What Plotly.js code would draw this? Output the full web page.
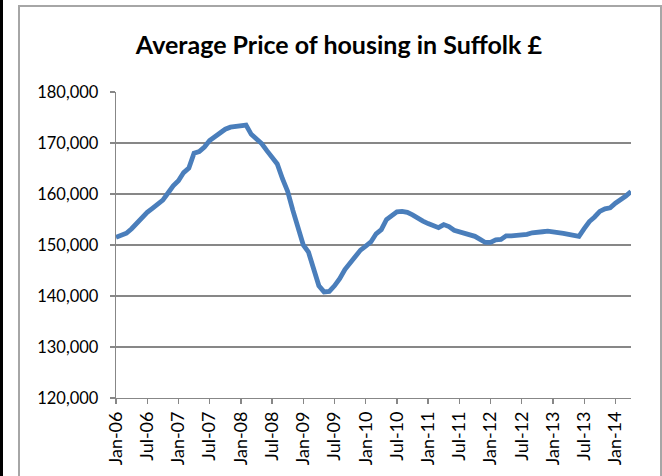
<!DOCTYPE html>
<html>
<head>
<meta charset="utf-8">
<script src="https://cdn.plot.ly/plotly-3.0.1.min.js"></script>
<style>
  html, body { margin: 0; padding: 0; background: #ffffff; }
  #wrap { position: relative; width: 662px; height: 476px; overflow: hidden; }
  #chart { position: absolute; left: 0; top: 0; width: 662px; height: 476px; }
  #frame { position: absolute; left: 18px; top: 5px; width: 640px; height: 500px;
           border: 2px solid #a6a6a6; pointer-events: none; }
  #leftbar { position: absolute; left: 0; top: 0; width: 3px; height: 476px; background: #000; }
</style>
</head>
<body>
<div id="wrap">
  <div id="chart"></div>
  <div id="frame"></div>
  <div id="leftbar"></div>
</div>
<script>
// Average house price in Suffolk, monthly Jan-06 .. Apr-14 (£)
const prices = [
  151500, 151900, 152300, 153200, 154300, 155400, 156400, 157200, 158100, 158800,
  160200, 161600, 162600, 164200, 165100, 168000, 168300, 169200, 170500, 171300,
  172000, 172700, 173100, 173300, 173400, 173500, 171700, 170800, 169900, 168500,
  167300, 165900, 163000, 160500, 156800, 153000, 150000, 148600, 145000, 142000,
  140800, 140900, 142000, 143400, 145200, 146400, 147700, 149000, 149800, 150600,
  152200, 153000, 155000, 155900, 156500, 156600, 156400, 155900, 155200, 154700,
  154200, 153700, 153400, 154000, 153600, 152900, 152600, 152200, 151900, 151700,
  151100, 150500, 150500, 151000, 151100, 151800, 151800, 151900, 151900, 152100,
  152400, 152600, 152600, 152700, 152600, 152600, 152300, 152100, 151800, 151700,
  153200, 154600, 155500, 156600, 157100, 157300, 158200, 158800, 159600, 160500
];
// tick labels every six months
const tickLabels = ['Jan-06','Jul-06','Jan-07','Jul-07','Jan-08','Jul-08','Jan-09','Jul-09',
  'Jan-10','Jul-10','Jan-11','Jul-11','Jan-12','Jul-12','Jan-13','Jul-13','Jan-14'];
const tickMonths = [0,6,12,18,24,30,36,42,48,54,60,66,72,78,84,90,96];

const monthIndex = prices.map((_, i) => i);

const gridColor = '#878787';
const fontFam = 'Lato, "Open Sans", sans-serif';

const trace = {
  x: monthIndex,
  y: prices,
  type: 'scatter',
  mode: 'lines',
  line: { color: '#4a7ebb', width: 4.8, shape: 'linear' },
  hoverinfo: 'skip'
};

const layout = {
  width: 662, height: 476,
  margin: { l: 116, r: 31, t: 92, b: 78, pad: 0 },
  paper_bgcolor: 'rgba(0,0,0,0)',
  plot_bgcolor: 'rgba(0,0,0,0)',
  showlegend: false,
  title: {
    text: '<b>Average Price of housing in Suffolk £</b>',
    font: { family: fontFam, size: 25, color: '#000' },
    x: 0.512, xanchor: 'center', xref: 'container',
    y: 0.905, yanchor: 'middle', yref: 'container'
  },
  xaxis: {
    range: [0, prices.length - 1],
    tickmode: 'array', tickvals: tickMonths, ticktext: tickLabels,
    tickangle: -90,
    ticks: 'outside', ticklen: 5, tickwidth: 1.3, tickcolor: gridColor,
    showline: true, linecolor: gridColor, linewidth: 1.3,
    showgrid: false, zeroline: false,
    tickfont: { family: fontFam, size: 18, color: '#000' },
    fixedrange: true
  },
  yaxis: {
    range: [120000, 180000],
    dtick: 10000, tick0: 120000,
    tickformat: ',d',
    ticks: 'outside', ticklen: 5, tickwidth: 1.3, tickcolor: gridColor,
    ticklabelstandoff: 8,
    showline: true, linecolor: gridColor, linewidth: 1.3,
    showgrid: true, gridcolor: gridColor, gridwidth: 1.3,
    zeroline: false,
    tickfont: { family: fontFam, size: 16.5, color: '#000' },
    fixedrange: true
  }
};

Plotly.newPlot('chart', [trace], layout, { staticPlot: true, displayModeBar: false });
</script>
</body>
</html>
